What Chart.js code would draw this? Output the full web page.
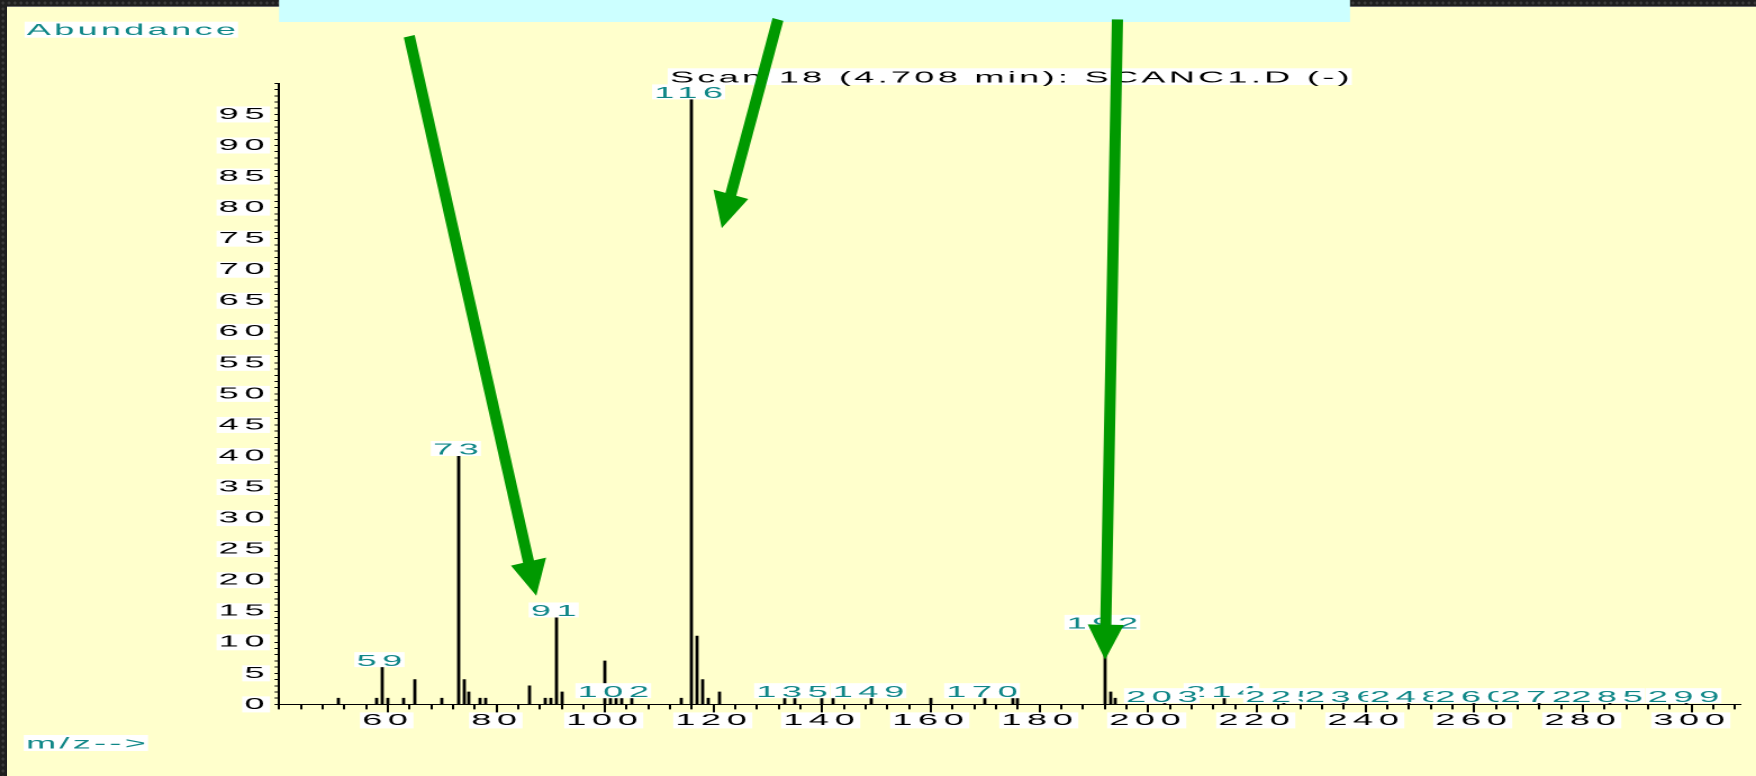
<!DOCTYPE html>
<html>
<head>
<meta charset="utf-8">
<title>Scan 18 (4.708 min): SCANC1.D (-)</title>
<script src="https://cdn.jsdelivr.net/npm/chart.js@4.4.1/dist/chart.umd.min.js"></script>
<style>
  html, body { margin: 0; padding: 0; }
  body {
    width: 1756px; height: 776px; overflow: hidden; position: relative;
    background-color: #1f1f1f;
    background-image: radial-gradient(circle, #3a3a3a 0, #3a3a3a 1px, transparent 2px);
    background-size: 6px 6px;
  }
  #paper { position: absolute; left: 7px; top: 6px; right: 0; bottom: 0; background: #ffffcc; border-top: 1px solid #6e6e6e; }
  /* the source is a screenshot stretched sideways: draw narrow, widen with CSS */
  #stretch { position: absolute; left: 0; top: 0; width: 781px; height: 776px; transform: scaleX(2.2484); transform-origin: 0 0; }
</style>
</head>
<body>
<div id="paper"></div>
<div id="stretch"><canvas id="spectrum"></canvas></div>
<script>
'use strict';

const STRETCH = 1756 / 781;
const FONT = "'Liberation Sans', Arial, Helvetica, sans-serif";
const TEAL = '#0f8787';

// ---- Spectrum data (m/z, % abundance) ----
const peakMz    = [51, 58, 59, 60, 63, 65, 70, 73, 74, 75, 77, 78, 86, 89, 90, 91, 92,
                   100, 101, 102, 103, 105, 114, 116, 117, 118, 119, 121, 133, 135, 140, 142, 149,
                   160, 170, 175, 176, 192, 193, 194, 203, 214, 225, 236, 248, 260, 272, 285, 299];
const peakAbund = [1, 1, 6, 1, 1, 4, 1, 40, 4, 2, 1, 1, 3, 1, 1, 14, 2,
                   7, 1, 1, 1, 1, 1, 100, 11, 4, 1, 2, 1, 1, 1, 1, 1,
                   1, 1, 1, 1, 12, 2, 1, 0.2, 1, 0.2, 0.2, 0.2, 0.2, 0.2, 0.2, 0.2];
const labelledMz = [59, 73, 91, 102, 116, 135, 149, 170, 192, 203, 214, 225, 236, 248, 260, 272, 285, 299];

const xTickLabels = [60, 80, 100, 120, 140, 160, 180, 200, 220, 240, 260, 280, 300];
const yTickLabels = [0, 5, 10, 15, 20, 25, 30, 35, 40, 45, 50, 55, 60, 65, 70, 75, 80, 85, 90, 95];

const titleText = 'Scan 18 (4.708 min): SCANC1.D (-)';

// green annotation arrows, in data units (tails sit above the plot)
const arrowTailMz    = [63.9, 131.8, 194.4];
const arrowTailAbund = [107.6, 110.3, 110.3];
const arrowTipMz     = [87.4, 121.5, 192.0];
const arrowTipAbund  = [17.5, 76.7, 7.2];

function abundanceAt(mz) {
  return peakAbund[peakMz.indexOf(mz)];
}

// white box behind text, text drawn from its left edge
function boxedText(ctx, text, left, baseline, color, spacing, above, below) {
  ctx.save();
  ctx.font = '16px ' + FONT;
  ctx.letterSpacing = '0px';
  const plain = ctx.measureText(text).width;
  const visible = plain + spacing * (text.length - 1);
  ctx.letterSpacing = spacing + 'px';
  ctx.textAlign = 'left';
  ctx.textBaseline = 'alphabetic';
  ctx.fillStyle = '#ffffff';
  ctx.fillRect(left - 1, baseline - above, visible + 2, above + below);
  ctx.fillStyle = color;
  ctx.fillText(text, left, baseline);
  ctx.restore();
  return visible;
}

function textAdvance(ctx, text, spacing) {
  ctx.save();
  ctx.font = '16px ' + FONT;
  ctx.letterSpacing = '0px';
  const w = ctx.measureText(text).width + spacing * text.length;
  ctx.restore();
  return w;
}

function drawArrow(ctx, x0, y0, x1, y1) {
  // shape worked out in screen pixels so the head keeps its form after the stretch
  const SHAFT = 5.6, HEAD = 18, HEAD_LEN = 35;
  const ax = x0 * STRETCH, bx = x1 * STRETCH;
  const len = Math.hypot(bx - ax, y1 - y0);
  const ux = (bx - ax) / len, uy = (y1 - y0) / len;
  const nx = -uy, ny = ux;
  const baseX = bx - ux * HEAD_LEN, baseY = y1 - uy * HEAD_LEN;
  const pts = [
    [ax + nx * SHAFT, y0 + ny * SHAFT],
    [baseX + nx * SHAFT, baseY + ny * SHAFT],
    [baseX + nx * HEAD, baseY + ny * HEAD],
    [bx, y1],
    [baseX - nx * HEAD, baseY - ny * HEAD],
    [baseX - nx * SHAFT, baseY - ny * SHAFT],
    [ax - nx * SHAFT, y0 - ny * SHAFT]
  ];
  ctx.beginPath();
  pts.forEach(([px, py], i) => i ? ctx.lineTo(px / STRETCH, py) : ctx.moveTo(px / STRETCH, py));
  ctx.closePath();
  ctx.fillStyle = '#009900';
  ctx.fill();
}

const spectrumDecor = {
  id: 'spectrumDecor',
  beforeUpdate(chart) {
    chart.ctx.letterSpacing = '2.5px';
  },
  beforeDraw(chart) {
    const ctx = chart.ctx;
    ctx.letterSpacing = '2.5px';
    // cyan strip across the top
    ctx.save();
    ctx.fillStyle = '#ccffff';
    ctx.fillRect(279 / STRETCH, 0, (1350 - 279) / STRETCH, 22);
    ctx.restore();
  },
  afterDatasetsDraw(chart) {
    const ctx = chart.ctx;
    const x = chart.scales.x, y = chart.scales.y;
    const area = chart.chartArea;

    // longer marks under the labelled m/z ticks
    ctx.save();
    ctx.strokeStyle = '#000';
    ctx.lineWidth = 1;
    xTickLabels.forEach(v => {
      const px = Math.round(x.getPixelForValue(v) * 2) / 2;
      ctx.beginPath();
      ctx.moveTo(px, area.bottom + 4);
      ctx.lineTo(px, area.bottom + 8);
      ctx.stroke();
    });
    ctx.restore();

    // peak labels: tallest first, so small neighbours overlap them
    const order = labelledMz.slice().sort((a, b) => abundanceAt(b) - abundanceAt(a));
    order.forEach(mz => {
      const text = String(mz);
      const cx = x.getPixelForValue(mz);
      let bottom = y.getPixelForValue(abundanceAt(mz));
      if (bottom - 15 < area.top + 1) bottom = area.top + 16;
      const left = cx - textAdvance(ctx, text, 2.5) / 2;
      boxedText(ctx, text, left, bottom - 1.3, TEAL, 2.5, 13.7, 1.3);
    });
  },
  afterDraw(chart) {
    const ctx = chart.ctx;
    const x = chart.scales.x, y = chart.scales.y;
    const area = chart.chartArea;

    const tw = textAdvance(ctx, titleText, 1.5) - 1.5;
    boxedText(ctx, titleText, (area.left + area.right) / 2 - tw / 2, area.top - 1.1, '#000', 1.5, 14, 2.7);
    boxedText(ctx, 'Abundance', 26.8 / STRETCH, 35, TEAL, 1.5, 13.3, 2.7);
    boxedText(ctx, 'm/z-->', 26 / STRETCH, 748.5, TEAL, 1.5, 13.5, 2.5);

    for (let i = 0; i < arrowTipMz.length; i++) {
      drawArrow(ctx,
        x.getPixelForValue(arrowTailMz[i]), y.getPixelForValue(arrowTailAbund[i]),
        x.getPixelForValue(arrowTipMz[i]), y.getPixelForValue(arrowTipAbund[i]));
    }
  }
};

Chart.defaults.font.family = FONT;
Chart.defaults.color = '#000';

const ctx = document.getElementById('spectrum').getContext('2d');

new Chart(ctx, {
  type: 'bar',
  data: {
    datasets: [{
      label: 'Abundance',
      data: peakMz.map((m, i) => ({ x: m, y: peakAbund[i] })),
      backgroundColor: '#000',
      borderWidth: 0,
      barThickness: 0.75,
      grouped: false
    }]
  },
  options: {
    responsive: true,
    maintainAspectRatio: false,
    devicePixelRatio: 2,
    animation: false,
    events: [],
    layout: { padding: { left: 74.1, right: 6.9, top: 83.4, bottom: 31.6 } },
    plugins: {
      legend: { display: false },
      tooltip: { enabled: false }
    },
    scales: {
      x: {
        type: 'linear',
        min: 40,
        max: 309,
        offset: false,
        alignToPixels: true,
        afterFit: s => { s.height = 40; },
        border: { display: true, color: '#000', width: 1 },
        grid: { offset: false, drawOnChartArea: false, drawTicks: true, tickLength: 5, tickColor: '#000', tickWidth: 1 },
        ticks: {
          stepSize: 4,
          includeBounds: false,
          autoSkip: false,
          maxRotation: 0,
          minRotation: 0,
          padding: 3,
          color: '#000',
          font: { size: 16, lineHeight: 1 },
          callback: v => xTickLabels.includes(v) ? String(v) : '',
          showLabelBackdrop: c => !!c.tick && xTickLabels.includes(c.tick.value),
          backdropColor: '#ffffff',
          backdropPadding: { top: 0, bottom: 0, left: 1, right: 0 }
        }
      },
      y: {
        type: 'linear',
        min: 0,
        max: 100,
        afterFit: s => { s.width = 50; },
        border: { display: true, color: '#000', width: 1 },
        grid: { drawOnChartArea: false, drawTicks: true, tickLength: 2, tickColor: '#000', tickWidth: 1 },
        ticks: {
          stepSize: 1,
          autoSkip: false,
          padding: 2,
          color: '#000',
          font: { size: 16, lineHeight: 1 },
          callback: v => yTickLabels.includes(v) ? String(v) : '',
          showLabelBackdrop: c => !!c.tick && yTickLabels.includes(c.tick.value),
          backdropColor: '#ffffff',
          backdropPadding: { top: 0, bottom: 0, left: 1, right: 0 }
        }
      }
    }
  },
  plugins: [spectrumDecor]
});
</script>
</body>
</html>
